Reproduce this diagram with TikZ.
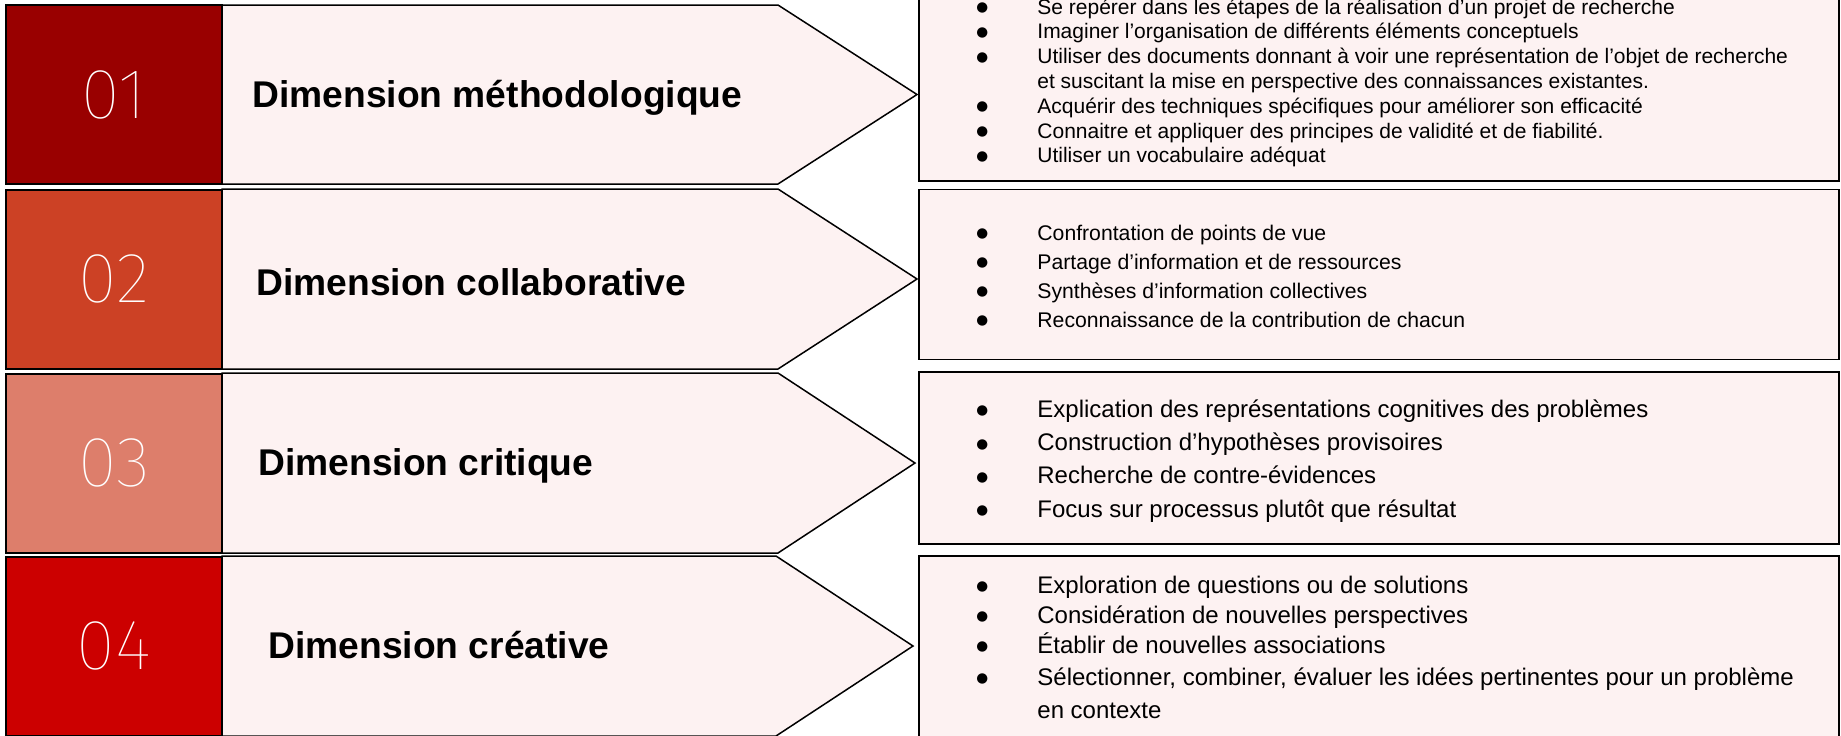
\documentclass[tikz,border=0pt]{standalone}
\usepackage{fontspec}
\setmainfont{Liberation Sans}
\newfontfamily\symboles{DejaVu Sans}
\IfFontExistsTF{Fira Sans Thin}{\newfontfamily\chiffres{Fira Sans Thin}}{%
  \IfFontExistsTF{Fira Sans ExtraLight}{\newfontfamily\chiffres{Fira Sans ExtraLight}}{%
    \IfFontExistsTF{Lato Hairline}{\newfontfamily\chiffres{Lato Hairline}}{%
      \IfFontExistsTF{Fira Sans Light}{\newfontfamily\chiffres{Fira Sans Light}}{%
        \newfontfamily\chiffres{Fira Sans}}}}}
\usepackage{tikz}
\usetikzlibrary{positioning,calc}
\definecolor{rouge01}{HTML}{990000}
\definecolor{rouge02}{HTML}{CC4125}
\definecolor{rouge03}{HTML}{DD7E6B}
\definecolor{rouge04}{HTML}{CC0000}
\definecolor{rosepale}{HTML}{FDF2F2}
\newcommand{\puce}{\makebox[30pt][l]{\hspace*{-0.5pt}\raisebox{1.2pt}{\symboles\fontsize{6.8}{7}\selectfont ●}}}
\newcommand{\suite}{\hspace*{30pt}}

\begin{document}
\begin{tikzpicture}[
  x=0.5pt,y=-0.5pt,
  numbox/.style={draw=black,line width=1pt,minimum width=108pt,minimum height=89.5pt,
    inner sep=0pt,text=white,font=\chiffres\fontsize{35.5}{36}\selectfont},
  fleche/.style={draw=black,line width=0.75pt,fill=rosepale,line join=miter},
  titre/.style={anchor=base west,inner sep=0pt,font=\bfseries\fontsize{18.6}{22}\selectfont},
  cadre/.style={draw=black,line width=0.85pt,fill=rosepale,minimum width=460pt,inner sep=0pt},
  liste/.style={anchor=base west,inner sep=0pt}
]
  \useasboundingbox (0,0) rectangle (1841,735);

  % --- boxes on the right ---
  \node[cadre,minimum height=100.5pt] (c1) at (1379,80.5) {};
  \node[cadre,minimum height=85pt] (c2) at (1379,274.5) {};
  \node[cadre,minimum height=86pt] (c3) at (1379,458) {};
  \node[cadre,minimum height=104pt] (c4) at (1379,660) {};

  % --- arrows ---
  \draw[fleche] (222,5) -- (778,5) -- (917,94.5) -- (778,184) -- (222,184) -- cycle;
  \draw[fleche] (222,189) -- (778,189) -- (917,279) -- (778,369) -- (222,369) -- cycle;
  \draw[fleche] (222,373) -- (778,373) -- (915,463) -- (778,553) -- (222,553) -- cycle;
  \draw[fleche] (222,556) -- (776,556) -- (913,646) -- (776,736) -- (222,736) -- cycle;

  % --- numbers ---
  \node[numbox,fill=rouge01] (n1) at (114,94.5) {01};
  \node[numbox,fill=rouge02] (n2) at (114,279) {02};
  \node[numbox,fill=rouge03] (n3) at (114,463) {03};
  \node[numbox,fill=rouge04] (n4) at (114,646) {04};

  % --- titles ---
  \node[titre] (t1) at (252,107) {Dimension méthodologique};
  \node[titre] (t2) at (256,295) {Dimension collaborative};
  \node[titre] (t3) at (258,475) {Dimension critique};
  \node[titre] (t4) at (268,658) {Dimension créative};

  % --- lists ---
  \node[liste] (l1) at (977,14) {\parbox[t]{440pt}{\fontsize{10.5}{12.4}\selectfont
    \puce Se repérer dans les étapes de la réalisation d'un projet de recherche\\
    \puce Imaginer l'organisation de différents éléments conceptuels\\
    \puce Utiliser des documents donnant à voir une représentation de l’objet de recherche\\
    \suite et suscitant la mise en perspective des connaissances existantes.\\
    \puce Acquérir des techniques spécifiques pour améliorer son efficacité\\
    \puce Connaitre et appliquer des principes de validité et de fiabilité.\\
    \puce Utiliser un vocabulaire adéquat}};
  \node[liste] (l2) at (977,240) {\parbox[t]{440pt}{\fontsize{10.6}{14.5}\selectfont
    \puce Confrontation de points de vue\\
    \puce Partage d’information et de ressources\\
    \puce Synthèses d’information collectives\\
    \puce Reconnaissance de la contribution de chacun}};
  \node[liste] (l3) at (977,417) {\parbox[t]{440pt}{\fontsize{12}{16.7}\selectfont
    \puce Explication des représentations cognitives des problèmes\\
    \puce Construction d’hypothèses provisoires\\
    \puce Recherche de contre-évidences\\
    \puce Focus sur processus plutôt que résultat}};
  \node[liste] (l4) at (977,593) {\parbox[t]{440pt}{\fontsize{12}{15}\selectfont
    \puce Exploration de questions ou de solutions\\
    \puce Considération de nouvelles perspectives\\
    \puce Établir de nouvelles associations\\[1pt]
    \puce Sélectionner, combiner, évaluer les idées pertinentes pour un problème\\[1.5pt]
    \suite en contexte}};
\end{tikzpicture}
\end{document}
